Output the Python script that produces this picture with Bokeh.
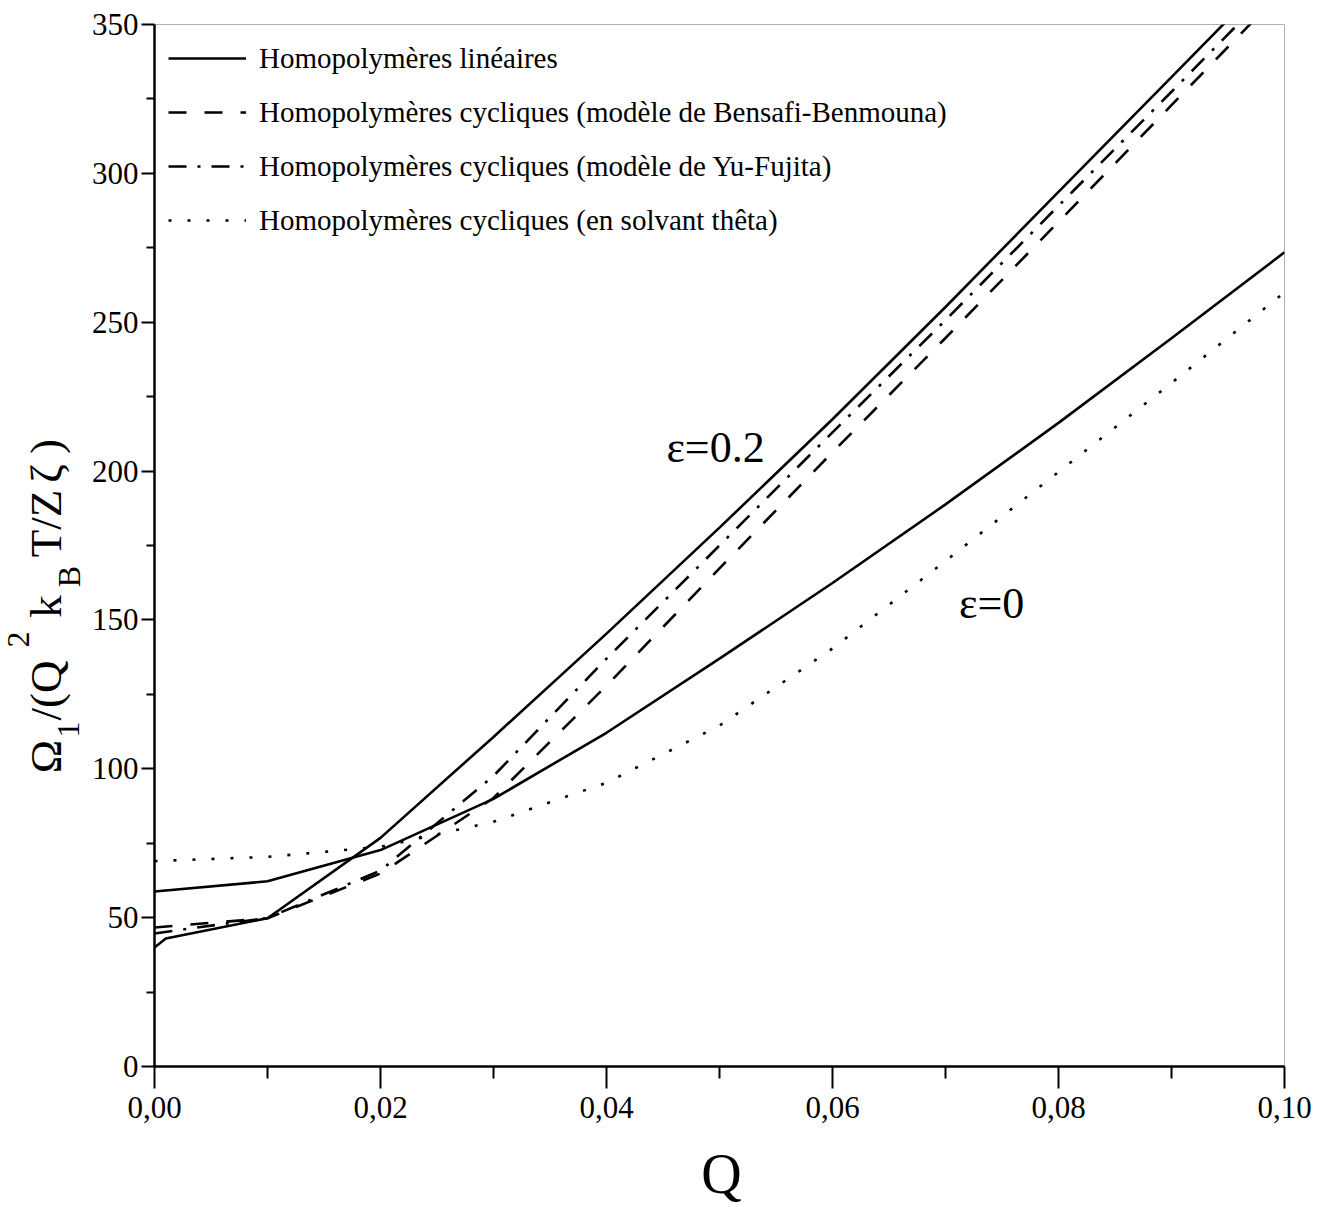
import math
from bokeh.plotting import figure
from bokeh.layouts import row, column
from bokeh.models import (Range1d, FixedTicker, CustomJSTickFormatter, Label,
                          Legend, LegendItem)
from bokeh.embed import file_html
from bokeh.resources import INLINE

# ---------------- data ----------------
q = [0.0, 0.01, 0.02, 0.03, 0.04, 0.05, 0.06, 0.07, 0.08, 0.09, 0.10]
q_lin_e02 = [0.0, 0.001, 0.01, 0.02, 0.03, 0.04, 0.05, 0.06, 0.07, 0.08, 0.09, 0.10]

# epsilon = 0.2
lin_e02 = [40.0, 43.0, 49.8, 76.8, 110.7, 145.4, 181.0, 217.4, 255.1, 293.8, 332.3, 371.0]
bb_e02 = [46.7, 49.8, 64.8, 90.2, 127.9, 167.3, 206.3, 244.7, 283.7, 322.9, 362.0]
yf_e02 = [44.7, 49.9, 65.8, 97.6, 137.0, 175.0, 213.0, 250.7, 289.1, 327.4, 366.0]
# epsilon = 0
lin_e0 = [58.8, 62.2, 72.7, 89.9, 112.1, 137.0, 162.4, 188.8, 216.2, 244.6, 273.5]
theta_e0 = [69.0, 70.4, 73.8, 82.2, 95.3, 114.5, 140.4, 169.8, 199.7, 229.6, 260.0]

legend_labels = [
    "Homopolymères linéaires",
    "Homopolymères cycliques (modèle de Bensafi-Benmouna)",
    "Homopolymères cycliques (modèle de Yu-Fujita)",
    "Homopolymères cycliques (en solvant thêta)",
]
x_ticks = [0.0, 0.02, 0.04, 0.06, 0.08, 0.10]
x_minor = [0.01, 0.03, 0.05, 0.07, 0.09]
y_ticks = [0, 50, 100, 150, 200, 250, 300, 350]
y_minor = [25, 75, 125, 175, 225, 275, 325]
x_title = "Q"
# y title pieces: text, kind (main / sub / sup)
y_title_pieces = [("Ω", "main"), ("1", "sub"), ("/(Q", "main"), ("2", "sup"),
                  ("k", "main"), ("B", "sub"), ("T/Z", "main"), ("ζ", "main"),
                  (")", "main")]

FONT = "Liberation Serif"
LEFT_W = 88
BORDER_L, BORDER_R, BORDER_T, BORDER_B = 153 - LEFT_W, 35, 24, 70
FRAME_W, FRAME_H = 1130, 1042
BOTTOM_H = 70
TOTAL_W = LEFT_W + BORDER_L + FRAME_W + BORDER_R

p = figure(frame_width=FRAME_W, frame_height=FRAME_H,
           x_range=Range1d(0, 0.1), y_range=Range1d(0, 350),
           output_backend="svg", toolbar_location=None, title=None,
           background_fill_color="white", border_fill_color="white")
p.min_border_left = BORDER_L
p.min_border_right = BORDER_R
p.min_border_top = BORDER_T
p.min_border_bottom = BORDER_B
p.xgrid.visible = False
p.ygrid.visible = False
p.outline_line_color = "#b0b0b0"
p.outline_line_width = 1

LW = 2.6
r_lin1 = p.line(q_lin_e02, lin_e02, line_color="black", line_width=LW)
r_lin0 = p.line(q, lin_e0, line_color="black", line_width=LW)
r_bb = p.line(q, bb_e02, line_color="black", line_width=LW, line_dash="18 18")
r_yf = p.line(q, yf_e02, line_color="black", line_width=LW, line_dash="18 11 3 11")
r_th = p.line(q, theta_e0, line_color="black", line_width=LW, line_dash="3 16")

legend = Legend(items=[
    LegendItem(label=legend_labels[0], renderers=[r_lin1]),
    LegendItem(label=legend_labels[1], renderers=[r_bb]),
    LegendItem(label=legend_labels[2], renderers=[r_yf]),
    LegendItem(label=legend_labels[3], renderers=[r_th]),
], location="top_left", margin=0, padding=14, spacing=14,
    glyph_width=78, glyph_height=40, label_height=40, label_standoff=13,
    label_text_font=FONT, label_text_font_size="29px", label_text_color="black",
    border_line_alpha=0, background_fill_alpha=0)
p.add_layout(legend)

# axes
for ax in (p.xaxis[0], p.yaxis[0]):
    ax.axis_line_width = 2.5
    ax.axis_line_color = "black"
    ax.major_tick_line_width = 2
    ax.minor_tick_line_width = 2
    ax.major_tick_in = 0
    ax.minor_tick_in = 0
    ax.major_label_text_font = FONT
    ax.major_label_text_font_size = "31px"
    ax.major_label_text_color = "black"
    ax.axis_label = None

p.xaxis.ticker = FixedTicker(ticks=x_ticks, minor_ticks=x_minor)
p.yaxis.ticker = FixedTicker(ticks=y_ticks, minor_ticks=y_minor)
p.xaxis.formatter = CustomJSTickFormatter(code="return tick.toFixed(2).replace('.', ',');")
p.xaxis.major_tick_out = 22
p.xaxis.minor_tick_out = 12
p.xaxis.major_label_standoff = 8
p.yaxis.major_tick_out = 13
p.yaxis.minor_tick_out = 8
p.yaxis.major_label_standoff = 3

# curve annotations
p.add_layout(Label(x=0.0453, y=199.8, text="ε=0.2", text_font=FONT,
                   text_baseline="bottom",
                   text_font_size="44px", text_color="black"))
p.add_layout(Label(x=0.0712, y=147.3, text="ε=0", text_font=FONT,
                   text_baseline="bottom",
                   text_font_size="44px", text_color="black"))


def strip(fw, fh, top=0, bottom=0):
    f = figure(frame_width=fw, frame_height=fh, x_range=Range1d(0, fw),
               y_range=Range1d(0, fh), output_backend="svg",
               toolbar_location=None, title=None,
               x_axis_location=None, y_axis_location=None, min_border=0)
    f.min_border_top = top
    f.min_border_bottom = bottom
    f.grid.visible = False
    f.outline_line_color = None
    f.background_fill_color = "white"
    f.border_fill_color = "white"
    return f


# ---- left strip holding the y-axis title; its frame matches the main frame ----
lf = strip(LEFT_W, FRAME_H, top=BORDER_T, bottom=BORDER_B)
# centre of each piece, measured upward from the frame bottom
centres = [310, 337, 376, 427, 460, 490, 543, 593, 620]
mid_x = {"main": 45, "sub": 68, "sup": 18}
sizes = {"main": "45px", "sub": "32px", "sup": "32px"}
for (txt, kind), c in zip(y_title_pieces, centres):
    lf.add_layout(Label(x=mid_x[kind], y=c, text=txt,
                        angle=math.pi / 2, text_align="center",
                        text_baseline="middle", text_font=FONT,
                        text_font_size=sizes[kind], text_color="black"))

# ---- bottom strip holding the x-axis title ----
bf = strip(TOTAL_W, BOTTOM_H)
bf.add_layout(Label(x=721, y=2, text=x_title,
                    text_align="center", text_baseline="bottom",
                    text_font=FONT, text_font_size="56px", text_color="black"))

layout = column(row(lf, p), bf)
open("out.html", "w").write(file_html(layout, INLINE))
